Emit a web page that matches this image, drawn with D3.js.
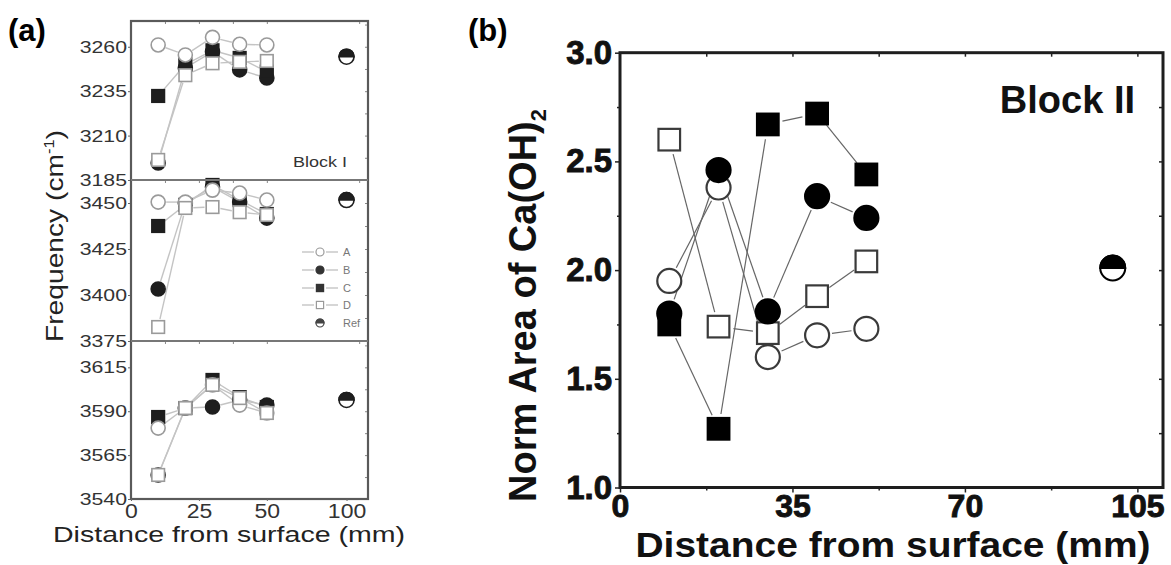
<!DOCTYPE html>
<html>
<head>
<meta charset="utf-8">
<script src="https://cdn.jsdelivr.net/npm/d3@7/dist/d3.min.js"></script>
<style>
  body { margin: 0; background: #fff; }
  svg { display: block; font-family: "Liberation Sans", Arial, sans-serif; }
</style>
</head>
<body>
<svg id="chart"></svg>
<script>
// ---- data ----
const seriesNames = ['A', 'B', 'C', 'D'];
const distances = [10, 20, 30, 40, 50];
const refDistance = 100;

// panel (a), Block I : frequency (cm-1) of three bands, rows = A, B, C, D
const band3200 = [
  [3261, 3255.4, 3265.3, 3261.4, 3261],
  [3194.6, 3248, 3257.2, 3247, 3242.4],
  [3232.3, 3250, 3258, 3253.7, 3246],
  [3196.3, 3244, 3250.7, 3251.5, 3252]
];
const band3450 = [
  [3450.5, 3450.5, 3457, 3455.4, 3451.6],
  [3403.3, 3450, 3458.7, 3450.5, 3441.8],
  [3437.5, 3449, 3459.8, 3451.6, 3444],
  [3382.6, 3447.3, 3447.8, 3445, 3443.5]
];
const band3600 = [
  [3580.4, 3591.8, 3605, 3593.5, 3589],
  [3553.7, 3591.8, 3592.4, 3596.4, 3593.5],
  [3586.7, 3591.8, 3607.8, 3598, 3592.4],
  [3553.7, 3591.8, 3605, 3597.5, 3589]
];
const refFreq = [3254.4, 3451.6, 3596.4];
const freqTicks = [
  [3185, 3210, 3235, 3260],
  [3375, 3400, 3425, 3450],
  [3540, 3565, 3590, 3615]
];
const freqDomains = [[3185, 3274.5], [3375, 3462.5], [3540, 3630]];
const aXTicks = [0, 25, 50, 100];

// panel (b), Block II : normalised area of Ca(OH)2
const normA = [1.95, 2.38, 1.60, 1.70, 1.73];
const normB = [1.80, 2.46, 1.81, 2.34, 2.24];
const normC = [1.75, 1.27, 2.67, 2.72, 2.44];
const normD = [2.60, 1.74, 1.71, 1.88, 2.04];
const normRef = 2.01;
const bXTicks = [0, 35, 70, 105];
const bYTicks = [1.0, 1.5, 2.0, 2.5, 3.0];

const markerType = { A: 'circleOpen', B: 'circleFilled', C: 'squareFilled', D: 'squareOpen' };
const FONT = '"Liberation Sans", Arial, sans-serif';

const svg = d3.select('#chart').attr('width', 1171).attr('height', 565);

// draw one marker; opt = {r, stroke, fill, width}
function marker(g, type, x, y, opt) {
  const r = opt.r;
  if (type === 'circleOpen' || type === 'circleFilled') {
    g.append('circle').attr('cx', x).attr('cy', y).attr('r', r)
      .attr('fill', type === 'circleOpen' ? '#fff' : opt.fill)
      .attr('stroke', type === 'circleOpen' ? opt.stroke : opt.fill)
      .attr('stroke-width', opt.width);
  } else if (type === 'squareOpen' || type === 'squareFilled') {
    const s = r * 0.9;
    g.append('rect').attr('x', x - s).attr('y', y - s).attr('width', 2 * s).attr('height', 2 * s)
      .attr('fill', type === 'squareOpen' ? '#fff' : opt.fill)
      .attr('stroke', type === 'squareOpen' ? opt.stroke : opt.fill)
      .attr('stroke-width', opt.width);
  } else {
    // half filled circle (Ref)
    g.append('circle').attr('cx', x).attr('cy', y).attr('r', r)
      .attr('fill', '#fff').attr('stroke', opt.fill).attr('stroke-width', opt.width);
    g.append('path')
      .attr('d', `M${x - r},${y} A${r},${r} 0 0 1 ${x + r},${y} Z`)
      .attr('fill', opt.fill).attr('stroke', opt.fill).attr('stroke-width', opt.width);
  }
}

// connecting line with a gap around each marker
function gappedLine(g, pts, gap, color, width) {
  for (let i = 1; i < pts.length; i++) {
    const [x1, y1] = pts[i - 1], [x2, y2] = pts[i];
    const dx = x2 - x1, dy = y2 - y1, len = Math.hypot(dx, dy);
    if (len <= 2 * gap) continue;
    const ux = dx / len, uy = dy / len;
    g.append('line')
      .attr('x1', x1 + ux * gap).attr('y1', y1 + uy * gap)
      .attr('x2', x2 - ux * gap).attr('y2', y2 - uy * gap)
      .attr('stroke', color).attr('stroke-width', width);
  }
}

// the left figure is printed a bit wider than tall
function stretch(sel, k) {
  sel.each(function () {
    const w = this.getComputedTextLength();
    d3.select(this).attr('textLength', w * k).attr('lengthAdjust', 'spacingAndGlyphs');
  });
}

// ================= panel (a) =================
const ga = svg.append('g');
const xa = d3.scaleLinear().domain([0, 60, 80, 108.5]).range([131, 294, 296, 368]);
const bandData = [band3200, band3450, band3600];
const bandRanges = [[180, 21], [341, 180], [499, 341]];
const aLine = '#c4c4c4';
const aOpen = { r: 7, stroke: '#9a9a9a', fill: '#1e1e1e', width: 1.6 };

bandData.forEach((vals, b) => {
  const y = d3.scaleLinear().domain(freqDomains[b]).range(bandRanges[b]);
  const g = ga.append('g');

  // ticks
  const left = g.append('g').attr('transform', 'translate(131,0)')
    .call(d3.axisLeft(y).tickValues(freqTicks[b]).tickSize(3).tickPadding(1).tickFormat(d3.format('d')));
  left.attr('font-family', FONT);
  left.select('.domain').remove();
  left.selectAll('line').attr('stroke', '#666');
  left.selectAll('text').attr('font-size', 17).attr('fill', '#333');
  stretch(left.selectAll('text'), 1.25);

  const minor = d3.range(freqDomains[b][0], freqDomains[b][1], 12.5);
  g.append('g').attr('transform', 'translate(368,0)')
    .call(d3.axisRight(y).tickValues(minor).tickSize(-3).tickFormat(''))
    .call(s => s.select('.domain').remove())
    .selectAll('line').attr('stroke', '#888');
  g.append('g').attr('transform', `translate(0,${bandRanges[b][1]})`)
    .call(d3.axisTop(xa).tickValues([12.5, 25, 37.5, 50, 105]).tickSize(-3).tickFormat(''))
    .call(s => s.select('.domain').remove())
    .selectAll('line').attr('stroke', '#888');

  // series lines
  const order = [1, 2, 0, 3];
  vals.forEach(v => {
    gappedLine(g, distances.map((d, i) => [xa(d), y(v[i])]), 8, aLine, 1.4);
  });
  order.forEach(k => {
    vals[k].forEach((v, i) => marker(g, markerType[seriesNames[k]], xa(distances[i]), y(v), aOpen));
  });
  marker(g, 'half', xa(refDistance), y(refFreq[b]), { r: 7.5, fill: '#1e1e1e', width: 1.6 });
});

// frame and band separators
ga.append('rect').attr('x', 131).attr('y', 21).attr('width', 237).attr('height', 478)
  .attr('fill', 'none').attr('stroke', '#5a5a5a').attr('stroke-width', 2.2);
[180, 341].forEach(yy => ga.append('line').attr('x1', 131).attr('x2', 368)
  .attr('y1', yy).attr('y2', yy).attr('stroke', '#777').attr('stroke-width', 2));

// x axis of (a)
const axA = ga.append('g').attr('transform', 'translate(0,499)')
  .call(d3.axisBottom(xa).tickValues(aXTicks).tickSize(2).tickPadding(3));
axA.attr('font-family', FONT);
axA.select('.domain').remove();
axA.selectAll('line').attr('stroke', '#666');
axA.selectAll('text').attr('font-size', 20).attr('fill', '#333');
stretch(axA.selectAll('text'), 1.15);

ga.append('text').attr('x', 229).attr('y', 542).attr('text-anchor', 'middle')
  .attr('font-size', 22).attr('fill', '#222')
  .attr('textLength', 352).attr('lengthAdjust', 'spacingAndGlyphs')
  .text('Distance from surface (mm)');

const yTitleA = ga.append('text').attr('transform', 'translate(63,342) rotate(-90)')
  .attr('font-size', 24).attr('fill', '#222')
  .attr('textLength', 212).attr('lengthAdjust', 'spacingAndGlyphs');
yTitleA.append('tspan').text('Frequency (cm');
yTitleA.append('tspan').attr('font-size', 14).attr('dy', -9).text('-1');
yTitleA.append('tspan').attr('dy', 9).text(')');

const blockI = ga.append('text').attr('x', 347).attr('y', 167).attr('text-anchor', 'end')
  .attr('font-size', 15).attr('fill', '#333').text('Block I');
stretch(blockI, 1.2);

// legend of (a)
const legRows = [252, 270, 288, 305, 323];
const legNames = seriesNames.concat(['Ref']);
legNames.forEach((n, i) => {
  const yy = legRows[i];
  if (n !== 'Ref') {
    ga.append('line').attr('x1', 302).attr('x2', 314).attr('y1', yy).attr('y2', yy).attr('stroke', aLine).attr('stroke-width', 1.4);
    ga.append('line').attr('x1', 326).attr('x2', 338).attr('y1', yy).attr('y2', yy).attr('stroke', aLine).attr('stroke-width', 1.4);
    marker(ga, markerType[n], 320, yy, { r: 4, stroke: '#9a9a9a', fill: '#333', width: 1.2 });
  } else {
    marker(ga, 'half', 320, yy, { r: 4, fill: '#444', width: 1.2 });
  }
  ga.append('text').attr('x', 343).attr('y', yy + 4).attr('font-size', 11).attr('fill', '#777').text(n);
});

ga.append('text').attr('x', 8).attr('y', 41).attr('font-size', 31).attr('font-weight', 'bold').text('(a)');

// ================= panel (b) =================
const gb = svg.append('g');
const xb = d3.scaleLinear().domain([0, 110.2]).range([620, 1163]);
const yb = d3.scaleLinear().domain([1, 3]).range([487.5, 52.7]);

const bl = gb.append('g').attr('transform', 'translate(620,0)')
  .call(d3.axisLeft(yb).tickValues(bYTicks).tickSize(5).tickPadding(3).tickFormat(d3.format('.1f')));
bl.attr('font-family', FONT).attr('font-weight', 'bold');
bl.selectAll('text').attr('font-size', 33).attr('fill', '#111')
  .attr('stroke', '#111').attr('stroke-width', 0.9);
gb.append('g').attr('transform', 'translate(620,0)')
  .call(d3.axisLeft(yb).tickValues([1.25, 1.75, 2.25, 2.75]).tickSize(3).tickFormat(''));

const bb = gb.append('g').attr('transform', 'translate(0,487.5)')
  .call(d3.axisBottom(xb).tickValues(bXTicks).tickSize(5).tickPadding(2));
bb.attr('font-family', FONT).attr('font-weight', 'bold');
bb.selectAll('text').attr('font-size', 32).attr('fill', '#111')
  .attr('stroke', '#111').attr('stroke-width', 0.9);
gb.append('g').attr('transform', 'translate(0,487.5)')
  .call(d3.axisBottom(xb).tickValues([17.5, 52.5, 87.5]).tickSize(3).tickFormat(''));

gb.append('g').attr('transform', 'translate(0,52.7)')
  .call(d3.axisTop(xb).tickValues(d3.range(17.5, 110, 17.5)).tickSize(-4).tickFormat(''));
gb.append('g').attr('transform', 'translate(1163,0)')
  .call(d3.axisRight(yb).tickValues(d3.range(1.25, 3, 0.25)).tickSize(-4).tickFormat(''));
gb.selectAll('.domain').remove();
gb.selectAll('.tick line').attr('stroke', '#222').attr('stroke-width', 1.5);

gb.append('rect').attr('x', 620).attr('y', 52.7).attr('width', 543).attr('height', 434.8)
  .attr('fill', 'none').attr('stroke', '#1e1e1e').attr('stroke-width', 3);

const normSeries = [normA, normB, normC, normD];
const bOpt = { r: 12, stroke: '#3a3a3a', fill: '#000', width: 2.2 };
normSeries.forEach(v => {
  gappedLine(gb, distances.map((d, i) => [xb(d), yb(v[i])]), 15, '#666', 1.2);
});
[0, 3, 2, 1].forEach(k => {
  normSeries[k].forEach((v, i) => marker(gb, markerType[seriesNames[k]], xb(distances[i]), yb(v), bOpt));
});
marker(gb, 'half', xb(refDistance), yb(normRef), { r: 12.5, fill: '#000', width: 2 });

gb.append('text').attr('x', 1135).attr('y', 113).attr('text-anchor', 'end')
  .attr('font-size', 38).attr('font-weight', 'bold').attr('fill', '#111').text('Block II');

gb.append('text').attr('x', 893).attr('y', 557).attr('text-anchor', 'middle')
  .attr('font-size', 35).attr('font-weight', 'bold').attr('fill', '#111')
  .attr('textLength', 515).attr('lengthAdjust', 'spacingAndGlyphs')
  .text('Distance from surface (mm)');

const yTitleB = gb.append('text').attr('transform', 'translate(536,502) rotate(-90)')
  .attr('font-size', 38).attr('font-weight', 'bold').attr('fill', '#111');
yTitleB.append('tspan').text('Norm Area of Ca(OH)');
yTitleB.append('tspan').attr('font-size', 22).attr('dy', 10).text('2');

gb.append('text').attr('x', 468).attr('y', 41).attr('font-size', 31).attr('font-weight', 'bold').text('(b)');
</script>
</body>
</html>
